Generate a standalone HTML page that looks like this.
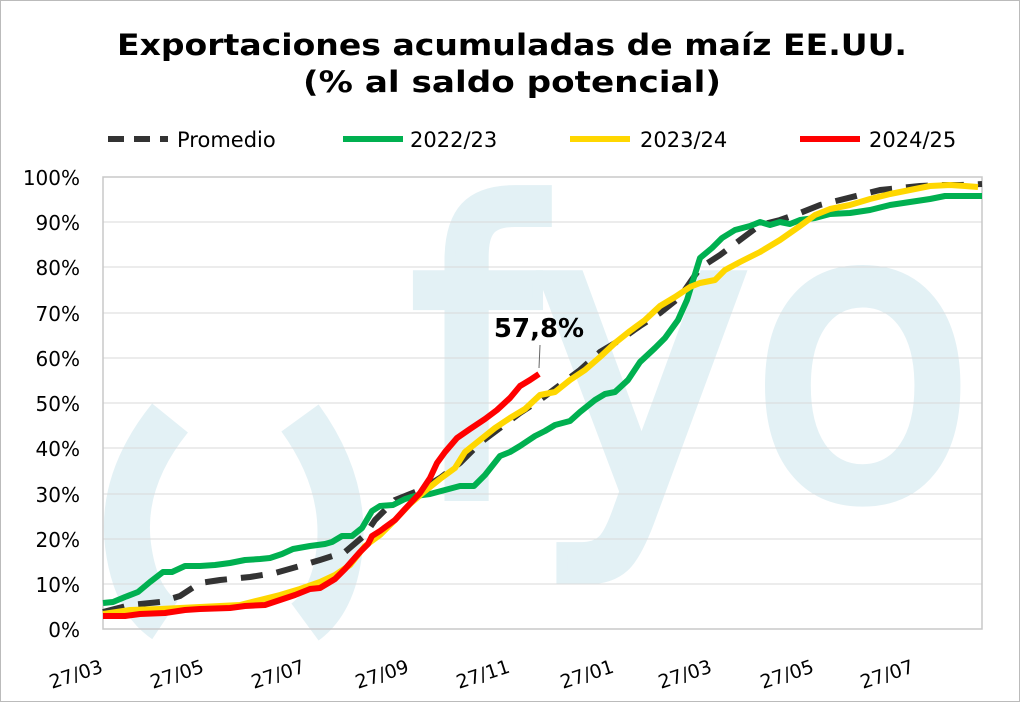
<!DOCTYPE html>
<html><head><meta charset="utf-8"><style>
body{margin:0;background:#fff}
svg{display:block;font-family:"DejaVu Sans","Liberation Sans",sans-serif}
</style></head><body>
<svg width="1024" height="702" viewBox="0 0 1024 702" xmlns="http://www.w3.org/2000/svg">
<rect x="0.5" y="0.5" width="1019" height="701" fill="#fff" stroke="#bbb"/>
<!-- watermark -->
<g fill="none" stroke="#e3f1f5" stroke-width="46">
<path d="M170 418 Q120 480 128 545 Q135 600 165 620"/>
<path d="M300 418 Q345 480 340 545 Q335 600 305 622"/>
</g>
<text x="410" y="495" font-size="400" fill="#e3f1f5" stroke="#e3f1f5" stroke-width="12" font-family="DejaVu Sans, sans-serif" textLength="565" lengthAdjust="spacingAndGlyphs">fyo</text>
<!-- grid -->
<g stroke="#d9d9d9" stroke-width="1">
<line x1="103" x2="982" y1="222" y2="222"/>
<line x1="103" x2="982" y1="267" y2="267"/><line x1="103" x2="982" y1="313" y2="313"/>
<line x1="103" x2="982" y1="358" y2="358"/><line x1="103" x2="982" y1="403" y2="403"/>
<line x1="103" x2="982" y1="448" y2="448"/><line x1="103" x2="982" y1="494" y2="494"/>
<line x1="103" x2="982" y1="539" y2="539"/><line x1="103" x2="982" y1="584" y2="584"/>
</g>
<rect x="103" y="177" width="879" height="452" fill="none" stroke="#c8c8c8" stroke-width="1.5"/>
<!-- title -->
<text x="512" y="55" font-size="29" font-weight="bold" text-anchor="middle" textLength="790" lengthAdjust="spacingAndGlyphs">Exportaciones acumuladas de maíz EE.UU.</text>
<text x="512" y="92" font-size="29" font-weight="bold" text-anchor="middle" textLength="418" lengthAdjust="spacingAndGlyphs">(% al saldo potencial)</text>
<!-- legend -->
<line x1="108" x2="168" y1="139" y2="139" stroke="#333" stroke-width="6" stroke-dasharray="16,10"/>
<text x="177" y="147" font-size="21">Promedio</text>
<line x1="343" x2="403" y1="139" y2="139" stroke="#00b050" stroke-width="6"/>
<text x="410" y="147" font-size="21">2022/23</text>
<line x1="570" x2="630" y1="139" y2="139" stroke="#ffd700" stroke-width="6"/>
<text x="640" y="147" font-size="21">2023/24</text>
<line x1="800" x2="860" y1="139" y2="139" stroke="#ff0000" stroke-width="6"/>
<text x="869" y="147" font-size="21">2024/25</text>
<!-- y labels -->
<g font-size="20" text-anchor="end">
<text x="80" y="185">100%</text><text x="80" y="230">90%</text><text x="80" y="275">80%</text>
<text x="80" y="321">70%</text><text x="80" y="366">60%</text><text x="80" y="411">50%</text>
<text x="80" y="456">40%</text><text x="80" y="502">30%</text><text x="80" y="547">20%</text>
<text x="80" y="592">10%</text><text x="80" y="637">0%</text>
</g>
<!-- x labels -->
<g font-size="19" text-anchor="end">
<text transform="translate(104,672) rotate(-18)">27/03</text>
<text transform="translate(205,672) rotate(-18)">27/05</text>
<text transform="translate(306,672) rotate(-18)">27/07</text>
<text transform="translate(410,672) rotate(-18)">27/09</text>
<text transform="translate(511,672) rotate(-18)">27/11</text>
<text transform="translate(615,672) rotate(-18)">27/01</text>
<text transform="translate(713,672) rotate(-18)">27/03</text>
<text transform="translate(815,672) rotate(-18)">27/05</text>
<text transform="translate(915,672) rotate(-18)">27/07</text>
</g>
<g fill="none" stroke-width="6" stroke-linejoin="round">
<polyline stroke="#333" stroke-dasharray="22,14" points="103,612 130,605 160,602 180,596 200,583 220,580 250,577 275,573 300,566 320,560 345,552 365,535 375,520 395,500 420,490 440,478 460,463 480,443 500,428 520,413 540,400 560,385 580,370 600,352 620,340 640,326 660,313 680,297 700,268 720,255 740,240 760,225 780,220 800,213 820,205 840,200 860,195 880,190 900,188 920,186 940,185 960,185 982,184"/>
<polyline stroke="#00b050" points="103,603 113,602 125,597 138,592 150,582 163,572 172,572 185,566 200,566 215,565 230,563 245,560 260,559 270,558 282,554 293,549 310,546 325,544 332,542 342,536 352,536 362,528 372,511 380,506 393,505 405,499 415,496 430,494 445,490 460,486 474,486 485,475 500,456 510,452 520,446 535,436 545,431 555,425 570,421 580,412 595,400 605,394 615,392 628,380 640,362 655,348 665,338 678,320 687,300 700,258 712,248 722,238 735,230 750,226 760,222 770,225 780,222 790,224 800,220 815,218 830,214 850,213 870,210 890,205 910,202 930,199 945,196 960,196 982,196"/>
<polyline stroke="#ffd700" points="103,614 130,610 160,609 200,607 240,605 260,600 280,595 300,589 320,582 335,575 350,565 365,546 380,535 395,520 410,504 425,491 440,479 455,468 465,452 480,440 495,428 510,418 525,409 540,395 555,392 570,380 585,370 600,357 615,343 630,331 645,320 660,306 675,297 690,287 700,283 715,280 725,270 740,262 760,252 780,240 800,226 815,215 830,209 850,205 870,199 890,194 910,190 930,186 950,185 965,186 978,187"/>
<polyline stroke="#ff0000" points="103,616 125,616 140,614 165,613 185,610 200,609 230,608 245,606 265,605 280,600 295,595 310,589 320,588 335,579 345,569 360,552 368,544 372,536 380,531 395,520 405,509 420,493 430,478 437,463 445,452 457,438 470,429 485,419 497,410 510,398 520,386 530,380 539,374"/>
</g>
<line x1="539" y1="368" x2="540" y2="345" stroke="#666" stroke-width="1"/>
<text x="539" y="337" font-size="26" font-weight="bold" text-anchor="middle">57,8%</text>
</svg>
</body></html>
